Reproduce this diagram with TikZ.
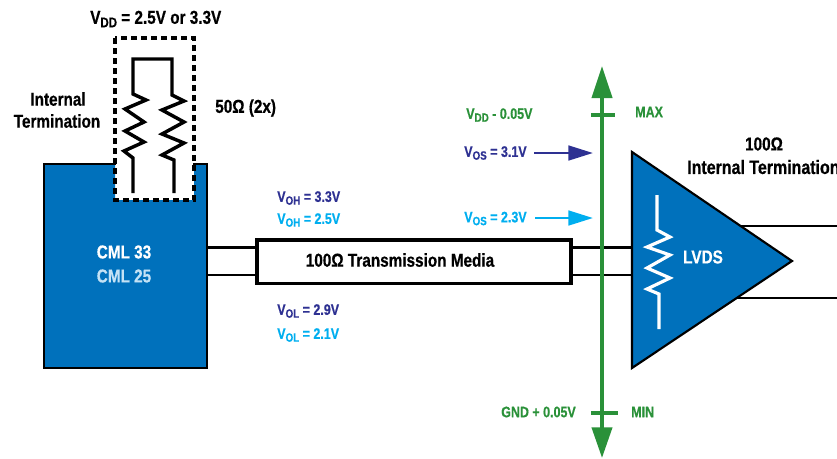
\documentclass[tikz,border=0pt]{standalone}
\usepackage{fontspec}
\setmainfont{Liberation Sans}[BoldFeatures={FakeStretch=0.82,FakeBold=0.6}]
\usetikzlibrary{arrows.meta}
\definecolor{cmlblue}{HTML}{0071BC}
\definecolor{darkblue}{HTML}{2E3192}
\definecolor{lightblue}{HTML}{00AEEF}
\definecolor{railgreen}{HTML}{2A9139}
\definecolor{palecml}{HTML}{C4E2F5}
\newcommand{\vsub}[2]{#1\raisebox{-0.35ex}{\fontsize{9}{9}\selectfont #2}}
\tikzset{
	biglabel/.style={inner sep=0pt, font=\fontsize{14}{16}\selectfont\bfseries},
	smalllabel/.style={inner sep=0pt, font=\fontsize{11.4}{13}\selectfont\bfseries},
	wire/.style={black, line width=2.4pt},
	rail/.style={railgreen, line width=3pt},
	level/.style={line width=2pt, -{Triangle[length=18.5pt,width=11pt]}}
}

\begin{document}
\begin{tikzpicture}[x=0.75pt, y=-0.75pt]
	\useasboundingbox (0,0) rectangle (837,458);
	\clip (0,0) rectangle (837,458);

	% driver block with the notch for the termination
	\fill[cmlblue] (44,164) -- (115,164) -- (115,200) -- (194,200) -- (194,164) -- (207,164) -- (207,368) -- (44,368) -- cycle;
	\draw[black, line width=2.2pt, line cap=rect] (115,164) -- (44,164) -- (44,368) -- (207,368) -- (207,164) -- (194,164);
	\draw[black, line width=2.7pt, dash pattern=on 4.5pt off 3pt] (115,38) rectangle (194,200);

	% termination resistors
	\draw[black, line width=2.6pt] (133,193) -- (133,158) -- (124,151) -- (144,142) -- (125,131) -- (144,122) -- (125,109) -- (146,100) -- (133,94) -- (133,59) -- (172,59) -- (172,95) -- (184,101) -- (162,110) -- (184,122) -- (162,134) -- (184,143) -- (162,155) -- (174,160) -- (174,193);

	% transmission lines
	\node[draw=black, fill=white, line width=2.4pt, inner sep=0pt, outer sep=0pt, minimum width=235.5pt, minimum height=32.5pt, anchor=north west] (media) at (257,240) {};
	\node[biglabel] (medialabel) at (400,260) {100Ω Transmission Media};
	\coordinate (cmlp) at (207,247.5);
	\coordinate (cmln) at (207,275);
	\coordinate (lvdsp) at (632,247.5);
	\coordinate (lvdsn) at (632,275);
	\draw[wire] (cmlp) -- (media.west |- cmlp);
	\draw[wire, line width=2pt] (cmln) -- (media.west |- cmln);
	\draw[wire] (media.east |- lvdsp) -- (lvdsp);
	\draw[wire, line width=2pt] (media.east |- lvdsn) -- (lvdsn);

	% receiver outputs run off the edge
	\coordinate (outp) at (837,226);
	\coordinate (outn) at (837,298);
	\draw[wire, line width=2pt] (720,226) -- (outp);
	\draw[wire, line width=2pt] (720,298) -- (outn);

	% receiver
	\draw[black, fill=cmlblue, line width=1.6pt, line join=miter] (632,152) -- (792,261) -- (632,368) -- cycle;
	\draw[white, line width=2.4pt] (657,195) -- (657,230) -- (670,237) -- (647,247) -- (670,255) -- (647,268) -- (670,278) -- (647,289) -- (659,294) -- (659,329);

	% common mode rail
	\coordinate (railtop) at (602,66);
	\coordinate (railbot) at (602,458);
	\draw[rail, {Triangle[length=24pt,width=15pt]}-{Triangle[length=23pt,width=15pt]}] (railtop) -- (railbot);
	\coordinate (maxl) at (591,115);
	\coordinate (maxr) at (615,115);
	\coordinate (minl) at (591,413);
	\coordinate (minr) at (618,413);
	\draw[rail] (maxl) -- (maxr);
	\draw[rail] (minl) -- (minr);

	% offset arrows
	\node[smalllabel, text=darkblue, anchor=west] (vos1) at (464,153) {\vsub{V}{OS} = 3.1V};
	\node[smalllabel, text=lightblue, anchor=west] (vos2) at (464,218.5) {\vsub{V}{OS} = 2.3V};
	\coordinate (tos1) at (593,153);
	\coordinate (tos2) at (593,218);
	\draw[level, darkblue] (534,153) -- (tos1);
	\draw[level, lightblue] (535,218) -- (tos2);

	\node[biglabel, anchor=west] (vdd) at (90,19) {\vsub{V}{\fontsize{10.5}{11}\selectfont DD} = 2.5V or 3.3V};
	\node[biglabel] (int1) at (58,99) {Internal};
	\node[biglabel] (int2) at (57,121) {Termination};
	\node[biglabel, anchor=west] (ohms) at (215,108) {50Ω (2x)};
	\node[biglabel, text=white] (cml33) at (124,252) {CML 33};
	\node[biglabel, text=palecml] (cml25) at (124,276) {CML 25};
	\node[smalllabel, text=darkblue, anchor=west] (voh1) at (277,198) {\vsub{V}{OH} = 3.3V};
	\node[smalllabel, text=lightblue, anchor=west] (voh2) at (277,220) {\vsub{V}{OH} = 2.5V};
	\node[smalllabel, text=darkblue, anchor=west] (vol1) at (277,311) {\vsub{V}{OL} = 2.9V};
	\node[smalllabel, text=lightblue, anchor=west] (vol2) at (277,335) {\vsub{V}{OL} = 2.1V};
	\node[smalllabel, text=railgreen, anchor=west] (vddm) at (466,115) {\vsub{V}{DD} - 0.05V};
	\node[smalllabel, text=railgreen, anchor=west] (vmax) at (635,112) {MAX};
	\node[smalllabel, text=railgreen, anchor=west] (gnd) at (501,412) {GND + 0.05V};
	\node[smalllabel, text=railgreen, anchor=west] (vmin) at (631,412) {MIN};
	\node[biglabel] (rterm1) at (764,144) {100Ω};
	\node[biglabel, anchor=west, font=\fontsize{14.6}{16}\selectfont\bfseries] (rterm2) at (687,167) {Internal Termination};
	\node[biglabel, text=white] (lvds) at (703,257) {LVDS};
\end{tikzpicture}
\end{document}
